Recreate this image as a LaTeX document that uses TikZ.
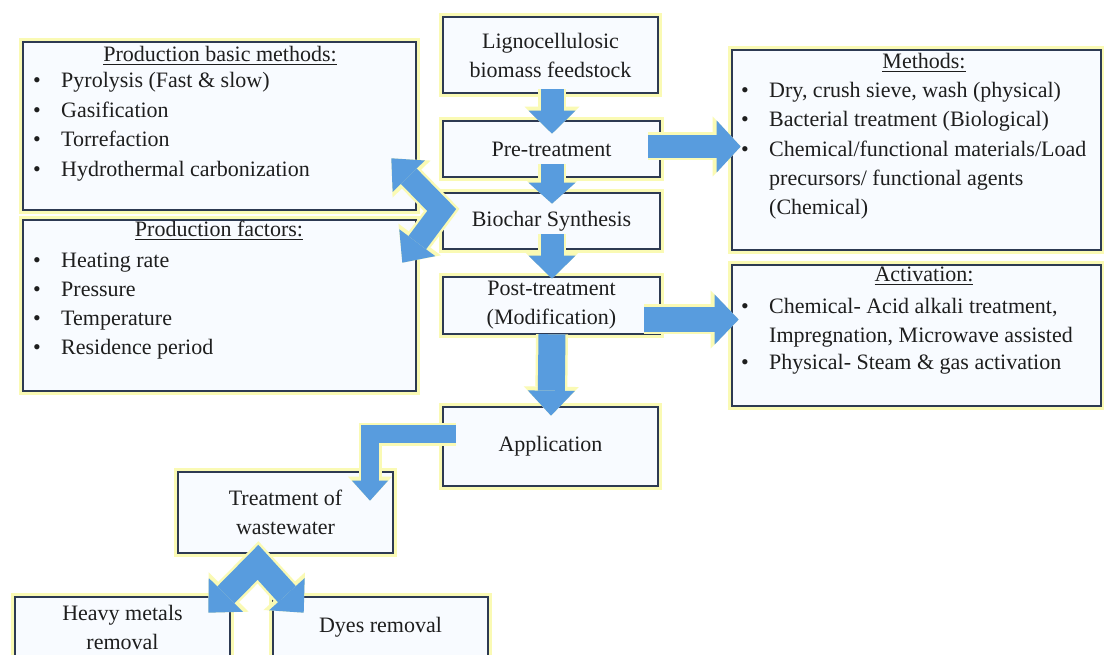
\documentclass[tikz,border=0pt]{standalone}
\usepackage{fontspec}
\setmainfont{Liberation Serif}
\usetikzlibrary{arrows.meta}
\definecolor{arrowblue}{RGB}{88,156,222}
\definecolor{boxline}{RGB}{45,58,82}
\definecolor{glowc}{RGB}{250,250,180}
\definecolor{boxfill}{RGB}{248,251,255}
\definecolor{textgray}{RGB}{30,30,30}
\newcommand{\fsz}{\fontsize{22}{29}\selectfont}
\tikzset{
  box/.style={draw=boxline, line width=2.6pt, fill=boxfill,
    preaction={draw=glowc, line width=8pt}, inner sep=0pt, align=center,
    font=\fsz, text=textgray},
  txt/.style={anchor=base west, inner sep=0pt, font=\fsz, text=textgray},
  hd/.style={anchor=base, inner sep=0pt, font=\fsz, text=textgray},
  bul/.style={anchor=base, inner sep=0pt, font=\fsz, text=textgray},
  flow/.style n args={6}{draw=arrowblue, line width=#1pt, line join=miter,
    -{Triangle[length=#3pt, width=#2pt, line width=0pt]},
    preaction={draw=glowc, line width=#4pt, line join=miter,
      -{Triangle[length=#6pt, width=#5pt, line width=0pt]}}},
  dflow/.style n args={6}{draw=arrowblue, line width=#1pt, line join=miter,
    {Triangle[length=#3pt, width=#2pt, line width=0pt]}-{Triangle[length=#3pt, width=#2pt, line width=0pt]},
    preaction={draw=glowc, line width=#4pt, line join=miter,
      {Triangle[length=#6pt, width=#5pt, line width=0pt]}-{Triangle[length=#6pt, width=#5pt, line width=0pt]}}}
}
\begin{document}
\begin{tikzpicture}[x=1pt,y=-1pt]
\useasboundingbox (0,0) rectangle (1104,655);
\clip (0,0) rectangle (1104,655);
\fill[white] (0,0) rectangle (1104,655);

% boxes
\node[box, minimum width=393pt, minimum height=168pt] (pbm) at (219.5,126) {};
\node[box, minimum width=393pt, minimum height=171pt] (pf) at (219.5,305.5) {};
\node[box, minimum width=215pt, minimum height=76pt] (ligno) at (550.5,55) {Lignocellulosic\\biomass feedstock};
\node[box, minimum width=217pt, minimum height=56pt] (pre) at (551.5,149) {Pre-treatment};
\node[box, minimum width=217pt, minimum height=56pt] (bio) at (551.5,221) {Biochar Synthesis};
\node[box, minimum width=217pt, minimum height=57pt] (post) at (551.5,305.5) {Post-treatment\\(Modification)};
\node[box, minimum width=369pt, minimum height=200pt] (meth) at (916.5,150) {};
\node[box, minimum width=369pt, minimum height=141pt] (act) at (916.5,335.5) {};
\node[box, minimum width=215pt, minimum height=79pt] (app) at (550.5,446.5) {Application};
\node[box, minimum width=215pt, minimum height=81pt] (treat) at (285.5,512.5) {Treatment of\\wastewater};
\node[box, minimum width=215pt, minimum height=60pt] (heavy) at (122.5,627) {Heavy metals\\removal};
\node[box, minimum width=215pt, minimum height=60pt] (dyes) at (380.5,627) {Dyes removal};

% Production basic methods
\node[hd] (pbmh) at (220,62) {\underline{Production basic methods:}};
\foreach \y/\t [count=\i] in {88/{Pyrolysis (Fast \& slow)},117.5/{Gasification},147/{Torrefaction},176.5/{Hydrothermal carbonization}}{
  \node[bul] (pbmb\i) at (37,\y) {•};
  \node[txt] (pbmt\i) at (61,\y) {\t};
}
% Production factors
\node[hd] (pfh) at (219,237) {\underline{Production factors:}};
\foreach \y/\t [count=\i] in {268/{Heating rate},297/{Pressure},326/{Temperature},355/{Residence period}}{
  \node[bul] (pfb\i) at (37,\y) {•};
  \node[txt] (pft\i) at (61,\y) {\t};
}
% Methods
\node[hd] (methh) at (924,69) {\underline{Methods:}};
\foreach \y/\t [count=\i] in {98/{Dry, crush sieve, wash (physical)},127/{Bacterial treatment (Biological)},157/{Chemical/functional materials/Load}}{
  \node[bul] (methb\i) at (745,\y) {•};
  \node[txt] (metht\i) at (769,\y) {\t};
}
\node[txt] (metht4) at (769,186) {precursors/ functional agents};
\node[txt] (metht5) at (769,215) {(Chemical)};
% Activation
\node[hd] (acth) at (924,282) {\underline{Activation:}};
\node[bul] (actb1) at (745,313) {•};
\node[txt] (actt1) at (769,313) {Chemical- Acid alkali treatment,};
\node[txt] (actt2) at (769,342) {Impregnation, Microwave assisted};
\node[bul] (actb3) at (745,370) {•};
\node[txt] (actt3) at (769,370) {Physical- Steam \& gas activation};

% arrows
\draw[flow={23}{47}{23}{28}{55}{27}] ([shift={(1.5,-5)}]ligno.south) -- ([shift={(0.5,14)}]pre.north);
\draw[flow={23}{47}{21}{28}{55}{25}] ([shift={(0.5,-14)}]pre.south) -- ([shift={(0.5,12)}]bio.north);
\draw[flow={23}{47}{23}{28}{55}{27}] ([shift={(0.5,-16)}]bio.south) -- ([shift={(0.5,3)}]post.north);
\draw[flow={27}{47}{25}{32}{55}{29}] ([shift={(0.5,-1)}]post.south) -- ([shift={(0.5,10)}]app.north);
\draw[flow={23}{52}{24}{28}{60}{28}] ([shift={(-13,-2.5)}]pre.east) -- ([shift={(10,-3.5)}]meth.west);
\draw[flow={25}{50}{24}{30}{58}{28}] ([shift={(-17,14)}]post.east) -- ([shift={(8,-16)}]act.west);
\draw[flow={18}{36}{20}{23}{44}{24}] ([shift={(14,-12.5)}]app.west) -| ([shift={(84.5,30)}]treat.north);
\draw[dflow={22}{45}{25}{27}{53}{29}] ([shift={(-26,-53)}]pbm.south east) -- ([shift={(0,-11)}]bio.west) -- ([shift={(-15,44)}]pf.north east);
\draw[dflow={24}{48}{25}{29}{56}{29}] ([shift={(-23,17)}]heavy.north east) -- ([shift={(-27.5,8)}]treat.south) -- ([shift={(32,17)}]dyes.north west);
\end{tikzpicture}
\end{document}
